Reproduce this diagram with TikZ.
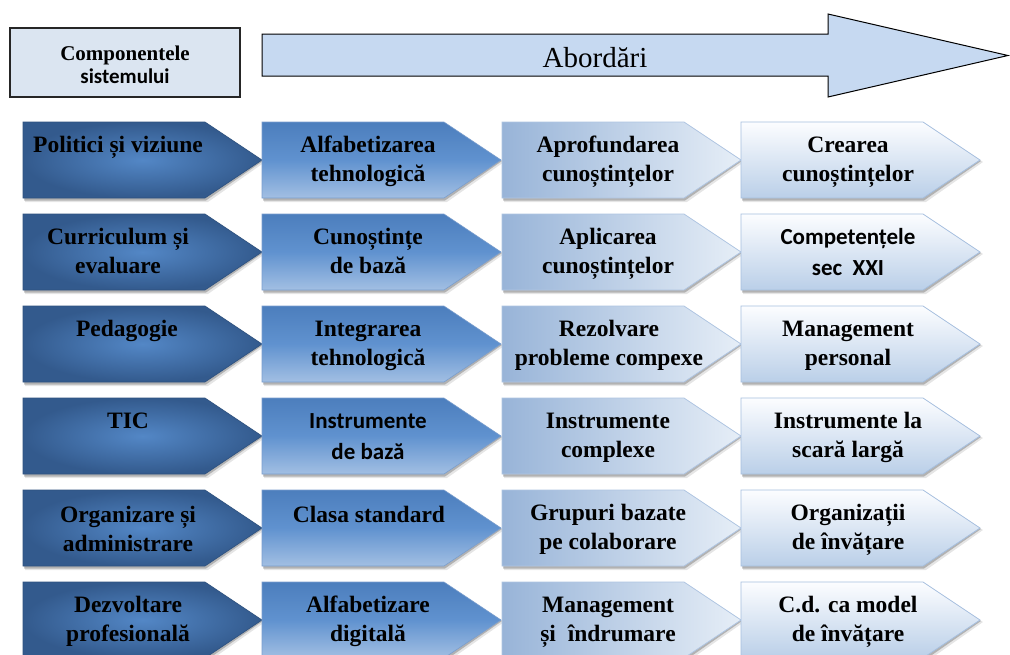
\documentclass[tikz,border=0pt]{standalone}
\usepackage{fontspec}
\setmainfont{Liberation Serif}
\newfontfamily\sansb{Carlito}
\definecolor{hdrfill}{HTML}{DBE5F1}
\definecolor{arrfill}{HTML}{C6D9F1}
\definecolor{c1in}{HTML}{5387C6}
\definecolor{c1out}{HTML}{335A8D}
\definecolor{c1bd}{HTML}{2F527F}
\definecolor{c2top}{HTML}{4C7EBD}
\definecolor{c2mid}{HTML}{6092CF}
\definecolor{c2bot}{HTML}{A2BFE3}
\definecolor{c2bd}{HTML}{7A9ECE}
\definecolor{c3l}{HTML}{98B4D8}
\definecolor{c3r}{HTML}{E6EEF7}
\definecolor{c3bd}{HTML}{AFC5E2}
\definecolor{c4t}{HTML}{FCFDFF}
\definecolor{c4b}{HTML}{BACFE8}
\definecolor{c4bd}{HTML}{A6BFDF}
\tikzset{
  colone/.style={inner color=c1in, outer color=c1out, draw=c1bd, line width=0.6pt},
  coltwo/.style={top color=c2top, bottom color=c2bot, middle color=c2mid, draw=c2bd, line width=0.6pt},
  colthree/.style={left color=c3l, right color=c3r, draw=c3bd, line width=0.8pt},
  colfour/.style={top color=c4t, bottom color=c4b, draw=c4bd, line width=0.8pt},
  lbl/.style={anchor=north, align=center, inner sep=0pt, font=\fontsize{23.5}{29}\selectfont\bfseries},
  slbl/.style={anchor=north, align=center, inner sep=0pt, font=\fontsize{23}{31}\selectfont\sansb\bfseries},
  hdr/.style={draw=black!85, line width=1.3pt, fill=hdrfill, minimum width=230pt, minimum height=69pt, inner sep=0pt},
  bigarrow/.style={draw=black, line width=1pt, fill=arrfill, line join=miter}
}
\newcommand\pentshape[3]{%
  \begin{scope}[shift={(#1,#2)}]
    \fill[black,opacity=.10] (2,2) -- (185,2) -- (242,40) -- (185,80) -- (2,80) -- cycle;
    \fill[black,opacity=.22] (1,2) -- (183,2) -- (240,39) -- (183,78.5) -- (1,78.5) -- cycle;
    \path[#3] (0,0) -- (182,0) -- (239,38) -- (182,76) -- (0,76) -- cycle;
  \end{scope}}
\begin{document}
\begin{tikzpicture}[x=1pt,y=-1pt]
\useasboundingbox (0,0) rectangle (1010,654);
\clip (0,0) rectangle (1010,654);
\fill[white] (0,0) rectangle (1010,654);

% header
\node[hdr] (comp) at (125,62.5) {};
\node[anchor=north, align=center, inner sep=0pt, font=\fontsize{21}{23}\selectfont\bfseries] (comptxt) at (125,45) {\rule{0pt}{15pt}Componentele\\{\sansb sistemului}};

\draw[bigarrow] (262,34) -- (828,34) -- (828,14) -- (1008,55.5) -- (828,97) -- (828,76) -- (262,76) -- cycle;
\node[anchor=base, inner sep=0pt, font=\fontsize{29}{32}\selectfont] (abord) at (595,67) {Abordări};

% shapes
\foreach \r in {122,214,306,398,490,582}{
  \pentshape{23}{\r}{colone}
  \pentshape{262}{\r}{coltwo}
  \pentshape{502}{\r}{colthree}
  \pentshape{741}{\r}{colfour}
}

% row 1
\node[lbl] (r1c1) at (118,135) {\rule{0pt}{17pt}Politici și viziune};
\node[lbl] (r1c2) at (368,135) {\rule{0pt}{17pt}Alfabetizarea\\tehnologică};
\node[lbl] (r1c3) at (608,135) {\rule{0pt}{17pt}Aprofundarea\\cunoștințelor};
\node[lbl] (r1c4) at (848,135) {\rule{0pt}{17pt}Crearea\\cunoștințelor};
% row 2
\node[lbl] (r2c1) at (118,227) {\rule{0pt}{17pt}Curriculum și\\evaluare};
\node[lbl] (r2c2) at (368,227) {\rule{0pt}{17pt}Cunoștințe\\de bază};
\node[lbl] (r2c3) at (608,227) {\rule{0pt}{17pt}Aplicarea\\cunoștințelor};
\node[slbl] (r2c4) at (848,227) {\rule{0pt}{17pt}Competențele\\sec~~XXI};
% row 3
\node[lbl] (r3c1) at (127,319) {\rule{0pt}{17pt}Pedagogie};
\node[lbl] (r3c2) at (368,319) {\rule{0pt}{17pt}Integrarea\\tehnologică};
\node[lbl] (r3c3) at (609,319) {\rule{0pt}{17pt}Rezolvare\\probleme compexe};
\node[lbl] (r3c4) at (848,319) {\rule{0pt}{17pt}Management\\personal};
% row 4
\node[lbl] (r4c1) at (128,411) {\rule{0pt}{17pt}TIC};
\node[slbl] (r4c2) at (368,411) {\rule{0pt}{17pt}Instrumente\\de bază};
\node[lbl] (r4c3) at (608,411) {\rule{0pt}{17pt}Instrumente\\complexe};
\node[lbl] (r4c4) at (848,411) {\rule{0pt}{17pt}Instrumente la\\scară largă};
% row 5
\node[lbl] (r5c1) at (128,505) {\rule{0pt}{17pt}Organizare și\\administrare};
\node[lbl] (r5c2) at (369,505) {\rule{0pt}{17pt}Clasa standard};
\node[lbl] (r5c3) at (608,503) {\rule{0pt}{17pt}Grupuri bazate\\pe colaborare};
\node[lbl] (r5c4) at (848,503) {\rule{0pt}{17pt}Organizații\\de învățare};
% row 6
\node[lbl] (r6c1) at (128,595) {\rule{0pt}{17pt}Dezvoltare\\profesională};
\node[lbl] (r6c2) at (368,595) {\rule{0pt}{17pt}Alfabetizare\\digitală};
\node[lbl] (r6c3) at (608,595) {\rule{0pt}{17pt}Management\\și~~îndrumare};
\node[lbl] (r6c4) at (848,595) {\rule{0pt}{17pt}C.d. ca model\\de învățare};
\end{tikzpicture}
\end{document}
